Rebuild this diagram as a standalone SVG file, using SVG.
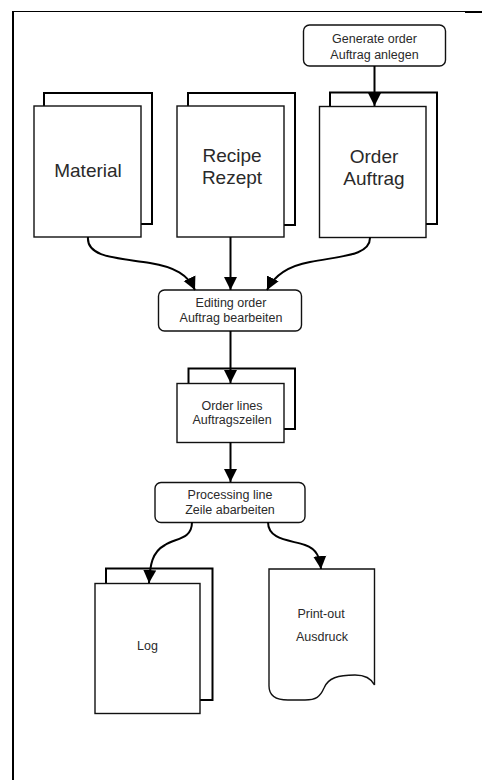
<svg xmlns="http://www.w3.org/2000/svg" width="482" height="780" viewBox="0 0 482 780">
  <defs>
    <marker id="arrow" markerUnits="userSpaceOnUse" markerWidth="14" markerHeight="14" refX="13" refY="7" orient="auto">
      <path d="M0,0.5 L13,7 L0,13.5 Z" fill="#000"/>
    </marker>
    <style>
      .back { fill: #fff; stroke: #000; stroke-width: 2; }
      .front { fill: #fff; stroke: #111; stroke-width: 1.4; }
      .proc { fill: #fff; stroke: #111; stroke-width: 1.4; }
      .edge { fill: none; stroke: #000; stroke-width: 2; marker-end: url(#arrow); }
      text { font-family: "Liberation Sans", Arial, sans-serif; fill: #2a2a2a; text-anchor: middle; }
      .big { font-size: 19px; }
      .small { font-size: 12.5px; }
    </style>
  </defs>

  <!-- page frame (top and left rules) -->
  <g id="frame">
    <line x1="12" y1="11.5" x2="482" y2="11.5" stroke="#000" stroke-width="1"/>
    <line x1="465" y1="12" x2="482" y2="12" stroke="#000" stroke-width="2"/>
    <line x1="13" y1="11" x2="13" y2="780" stroke="#000" stroke-width="2"/>
  </g>

  <g id="generate-order">
    <rect class="proc" x="303.5" y="25" width="142" height="41" rx="6"/>
    <text class="small" x="374.5" y="43">Generate order</text>
    <text class="small" x="374.5" y="59">Auftrag anlegen</text>
  </g>

  <g id="material">
    <rect class="back" x="44" y="93" width="108" height="131"/>
    <rect class="front" x="34" y="106" width="107" height="131"/>
    <text class="big" x="88" y="177">Material</text>
  </g>

  <g id="recipe">
    <rect class="back" x="188" y="93" width="107" height="132"/>
    <rect class="front" x="177" y="106" width="107" height="131"/>
    <text class="big" x="232" y="162">Recipe</text>
    <text class="big" x="232" y="184">Rezept</text>
  </g>

  <g id="order">
    <rect class="back" x="330" y="92.5" width="107" height="131.5"/>
    <rect class="front" x="319.5" y="106.5" width="106.5" height="131"/>
    <text class="big" x="374" y="163">Order</text>
    <text class="big" x="374" y="185">Auftrag</text>
  </g>

  <g id="editing-order">
    <rect class="proc" x="158.5" y="290" width="143" height="41" rx="6"/>
    <text class="small" x="231" y="307">Editing order</text>
    <text class="small" x="231" y="322">Auftrag bearbeiten</text>
  </g>

  <g id="order-lines">
    <rect class="back" x="188.5" y="368.5" width="106.5" height="60.5"/>
    <rect class="front" x="177" y="383.5" width="107" height="59"/>
    <text class="small" x="232" y="410">Order lines</text>
    <text class="small" x="232" y="424">Auftragszeilen</text>
  </g>

  <g id="processing-line">
    <rect class="proc" x="155" y="482.5" width="150" height="40" rx="6"/>
    <text class="small" x="230" y="499">Processing line</text>
    <text class="small" x="230" y="514">Zeile abarbeiten</text>
  </g>

  <g id="log">
    <rect class="back" x="106" y="568.5" width="106.5" height="131.5"/>
    <rect class="front" x="95" y="583.5" width="105" height="130"/>
    <text class="small" x="147.5" y="650">Log</text>
  </g>

  <g id="print-out">
    <path class="front" d="M269,569 H374.5 V685 C371,678 365,675 355,675 C338,675 328,678 324,688 C320,697 316,700 305,700 H288 C276,700 269,696 269,686 Z"/>
    <text class="small" x="321" y="618">Print-out</text>
    <text class="small" x="322" y="641">Ausdruck</text>
  </g>

  <!-- connectors drawn last so arrowheads sit on top of the document stacks -->
  <g id="connectors">
    <path class="edge" d="M374.5,66 V106"/>
    <path class="edge" d="M88,237 C86,258 120,258 150,263 C175,267 188,275 195,290"/>
    <path class="edge" d="M230.5,237 V290"/>
    <path class="edge" d="M370,237 C371,256 340,256 310,262 C288,266 274,276 267,290"/>
    <path class="edge" d="M230.5,331 V383"/>
    <path class="edge" d="M230.5,442 V482"/>
    <path class="edge" d="M192,522 C192,540 175,538 165,545 C152,552 150,565 149,583"/>
    <path class="edge" d="M268,522 C268,540 290,540 305,545 C317,549 320,558 321,569"/>
  </g>
</svg>
